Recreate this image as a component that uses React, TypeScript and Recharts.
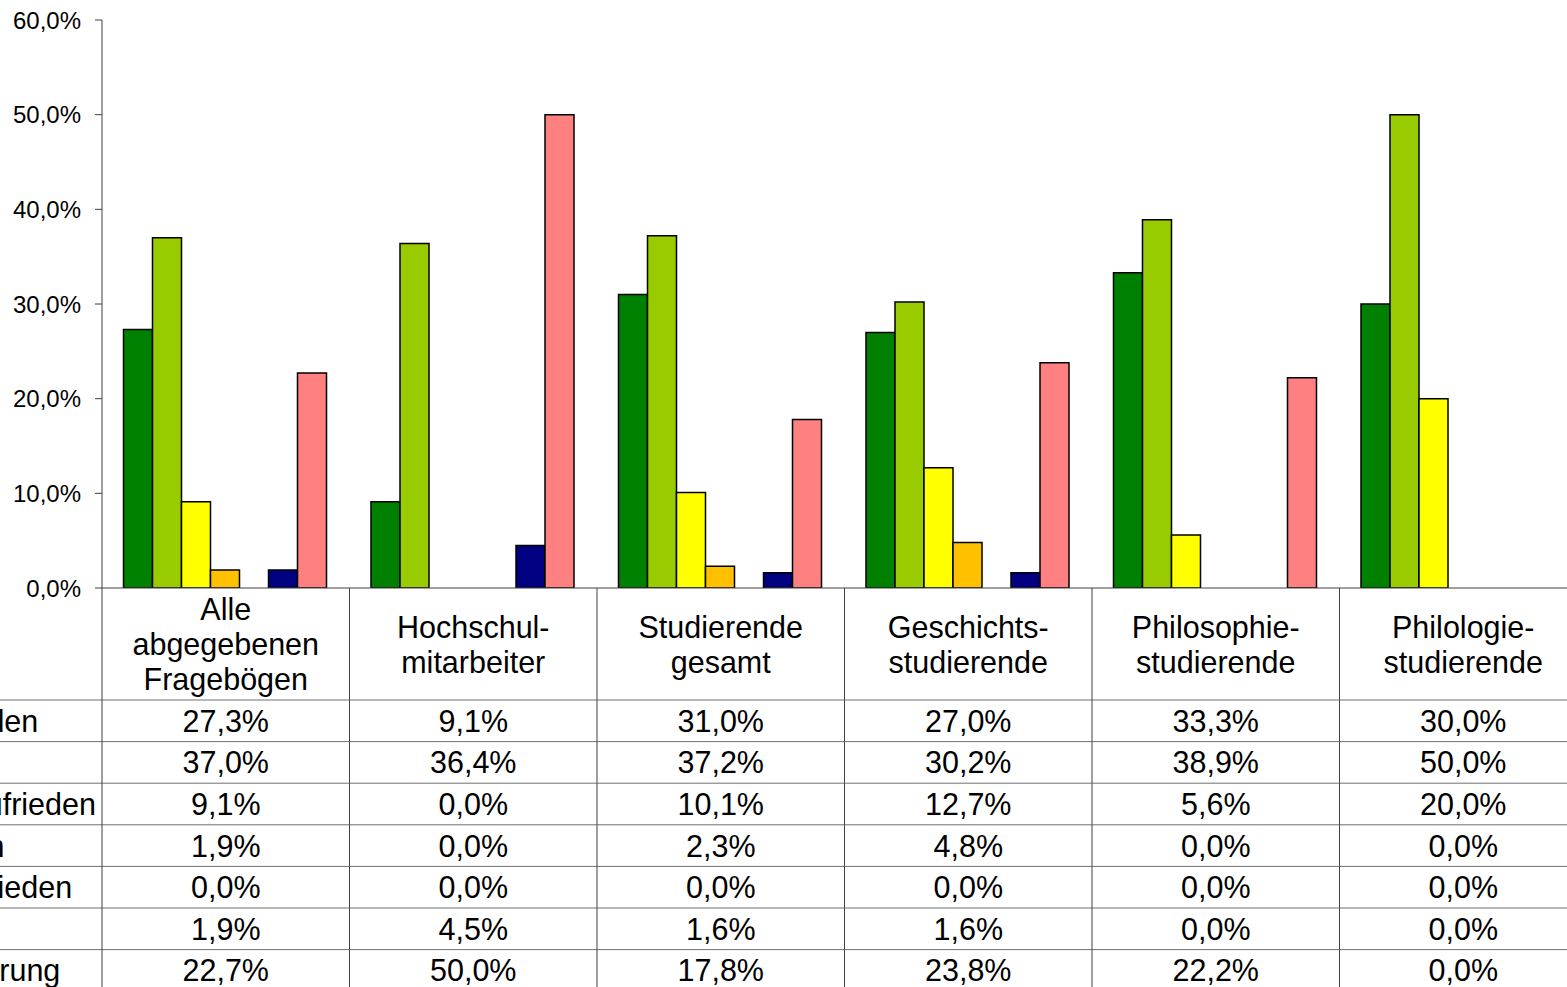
import React from 'react';
import { BarChart, Bar, XAxis, YAxis } from 'recharts';

const CATEGORIES = [
  'Alle\nabgegebenen\nFragebögen',
  'Hochschul-\nmitarbeiter',
  'Studierende\ngesamt',
  'Geschichts-\nstudierende',
  'Philosophie-\nstudierende',
  'Philologie-\nstudierende',
];

const SERIES_NAMES = [
  'sehr zufrieden',
  'zufrieden',
  'teilweise zufrieden',
  'unzufrieden',
  'sehr unzufrieden',
  'weiß nicht',
  'keine Erfahrung',
];

const sehrZufrieden = [27.3, 9.1, 31.0, 27.0, 33.3, 30.0];
const zufrieden = [37.0, 36.4, 37.2, 30.2, 38.9, 50.0];
const teilweiseZufrieden = [9.1, 0.0, 10.1, 12.7, 5.6, 20.0];
const unzufrieden = [1.9, 0.0, 2.3, 4.8, 0.0, 0.0];
const sehrUnzufrieden = [0.0, 0.0, 0.0, 0.0, 0.0, 0.0];
const weissNicht = [1.9, 4.5, 1.6, 1.6, 0.0, 0.0];
const keineErfahrung = [22.7, 50.0, 17.8, 23.8, 22.2, 0.0];

const Y_TICKS = [0, 10, 20, 30, 40, 50, 60];

const SERIES_VALUES = [
  sehrZufrieden,
  zufrieden,
  teilweiseZufrieden,
  unzufrieden,
  sehrUnzufrieden,
  weissNicht,
  keineErfahrung,
];

const SERIES_COLORS = ['#008000', '#99CC00', '#FFFF00', '#FFC000', '#FF0000', '#000080', '#FF8080'];

const data = CATEGORIES.map((name, i) => {
  const row: Record<string, any> = { name };
  SERIES_VALUES.forEach((vals, s) => {
    row['s' + s] = vals[i];
  });
  return row;
});

const FONT = '"Liberation Sans", Arial, Helvetica, sans-serif';
const CHART_W = 1600;
const CHART_H = 1000;
const MARGIN = { top: 20, right: 13, bottom: 0, left: 0 };
const YAXIS_W = 102;
const BAND = (CHART_W - MARGIN.left - MARGIN.right - YAXIS_W) / CATEGORIES.length;
const HEADER_H = 112;
const ROW_H = 41.6;
const TABLE_FONT = 30.5;
const LINE_H = 35;
const LABEL_COL_W = 257;
const GRID = '#707070';

const fmt = (v: number) => v.toFixed(1).replace('.', ',') + '%';

function TableTick(props: any) {
  const { x, y, payload, index } = props;
  const half = BAND / 2;
  const left = x - half;
  const right = x + half;
  const lines = String(payload.value).split('\n');
  const headerCenter = y + HEADER_H / 2;
  const firstLine = headerCenter - ((lines.length - 1) * LINE_H) / 2;
  const tableBottom = y + HEADER_H + ROW_H * (SERIES_NAMES.length + 1);
  const els: React.ReactNode[] = [];

  lines.forEach((ln, k) => {
    els.push(
      <text key={'h' + k} x={x} y={firstLine + k * LINE_H} textAnchor="middle" dominantBaseline="central"
        fontSize={TABLE_FONT} fontFamily={FONT} fill="#000">{ln}</text>
    );
  });

  SERIES_VALUES.forEach((vals, r) => {
    const rowTop = y + HEADER_H + r * ROW_H;
    els.push(
      <line key={'hl' + r} x1={left} x2={right} y1={rowTop} y2={rowTop} stroke={GRID} strokeWidth={1} />
    );
    els.push(
      <text key={'v' + r} x={x} y={rowTop + ROW_H / 2} textAnchor="middle" dominantBaseline="central"
        fontSize={TABLE_FONT} fontFamily={FONT} fill="#000">{fmt(vals[index])}</text>
    );
    if (index === 0) {
      els.push(
        <line key={'ll' + r} x1={left - LABEL_COL_W - 100} x2={left} y1={rowTop} y2={rowTop} stroke={GRID} strokeWidth={1} />
      );
      els.push(
        <text key={'lt' + r} x={left - LABEL_COL_W} y={rowTop + ROW_H / 2} textAnchor="start" dominantBaseline="central"
          fontSize={TABLE_FONT} fontFamily={FONT} fill="#000">{SERIES_NAMES[r]}</text>
      );
    }
  });
  const lastTop = y + HEADER_H + SERIES_NAMES.length * ROW_H;
  els.push(<line key="hlast" x1={left} x2={right} y1={lastTop} y2={lastTop} stroke={GRID} strokeWidth={1} />);
  if (index === 0) {
    els.push(<line key="llast" x1={left - LABEL_COL_W - 100} x2={left} y1={lastTop} y2={lastTop} stroke={GRID} strokeWidth={1} />);
    els.push(<line key="vl" x1={left} x2={left} y1={y} y2={tableBottom} stroke="#404040" strokeWidth={1} />);
  }
  els.push(<line key="vr" x1={right} x2={right} y1={y} y2={tableBottom} stroke="#404040" strokeWidth={1} />);

  return <g>{els}</g>;
}

export default function App() {
  return (
    <div style={{ position: 'fixed', left: 0, top: 0, width: 1567, height: 987, overflow: 'hidden', background: '#fff' }}>
      <BarChart width={CHART_W} height={CHART_H} data={data} margin={MARGIN} barCategoryGap={21.5} barGap={0}>
        <XAxis
          dataKey="name"
          height={CHART_H - MARGIN.top - MARGIN.bottom - 568}
          interval={0}
          tickLine={false}
          tickSize={0}
          tickMargin={0}
          axisLine={{ stroke: '#404040', strokeWidth: 1 }}
          tick={(p: any) => <TableTick {...p} />}
        />
        <YAxis
          domain={[0, 60]}
          ticks={Y_TICKS}
          tickFormatter={fmt}
          width={YAXIS_W}
          tickSize={7}
          tickMargin={14}
          allowDataOverflow
          axisLine={{ stroke: '#404040', strokeWidth: 1 }}
          tickLine={{ stroke: '#404040', strokeWidth: 1 }}
          tick={{ fontSize: 24, fill: '#000', fontFamily: FONT }}
        />
        {SERIES_NAMES.map((n, s) => (
          <Bar key={n} dataKey={'s' + s} name={n} fill={SERIES_COLORS[s]} stroke="#000" strokeWidth={1.5} isAnimationActive={false} />
        ))}
      </BarChart>
    </div>
  );
}
